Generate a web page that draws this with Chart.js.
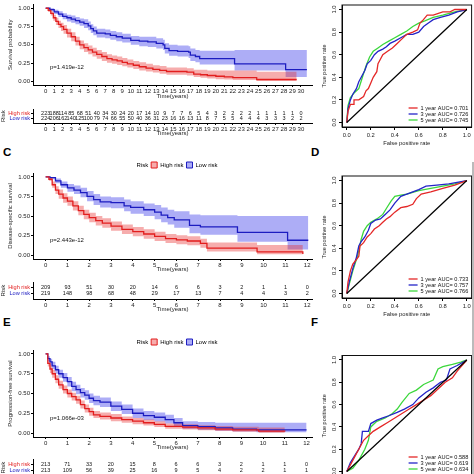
<!DOCTYPE html>
<html>
<head>
<meta charset="utf-8">
<title>Survival and ROC</title>
<script src="https://cdn.jsdelivr.net/npm/chart.js@4.4.1/dist/chart.umd.min.js"></script>
<style>
  body { margin:0; width:474px; height:474px; overflow:hidden; position:relative; background:#fff;
         font-family:"Liberation Sans", Arial, sans-serif; }
  canvas { position:absolute; }
  .tag { position:absolute; font-weight:bold; font-size:11.5px; line-height:1; color:#000; }
  .pval { position:absolute; font-size:6px; line-height:1; color:#111; }
  .edge { position:absolute; left:472px; top:162px; width:2px; height:312px; background:#bbb; }
</style>
</head>
<body>
<canvas id="kmA" width="320" height="100" style="left:0;top:0"></canvas>
<canvas id="riskA" width="320" height="32" style="left:0;top:105px"></canvas>
<canvas id="rocB" width="154" height="147" style="left:320px;top:0"></canvas>

<canvas id="kmC" width="320" height="114" style="left:0;top:159px"></canvas>
<canvas id="riskC" width="320" height="35" style="left:0;top:278px"></canvas>
<canvas id="rocD" width="154" height="158" style="left:320px;top:160px"></canvas>

<canvas id="kmE" width="320" height="115" style="left:0;top:336px"></canvas>
<canvas id="riskE" width="320" height="35" style="left:0;top:455px"></canvas>
<canvas id="rocF" width="154" height="156" style="left:320px;top:340px"></canvas>

<div class="edge"></div>
<div class="pval" style="left:50px;top:64px">p=1.419e-12</div>
<div class="pval" style="left:50px;top:237px">p=2.443e-12</div>
<div class="pval" style="left:50px;top:415px">p=1.066e-03</div>
<div class="tag" style="left:3px;top:147px">C</div>
<div class="tag" style="left:311px;top:147px">D</div>
<div class="tag" style="left:3px;top:317px">E</div>
<div class="tag" style="left:311px;top:317px">F</div>

<script>
// ---- overall survival (A) ----
var osYears = [0,1,2,3,4,5,6,7,8,9,10,11,12,13,14,15,16,17,18,19,20,21,22,23,24,25,26,27,28,29,30];
var osHighT  = [0,0.3,0.6,0.9,1.2,1.5,1.8,2.1,2.5,3.0,3.5,4.0,4.5,5.0,5.5,6.0,6.6,7.2,7.8,8.4,9.0,9.6,10.3,11.0,11.8,12.6,13.4,14.2,16.6,17.4,18.2,19.0,20.0,21.0,22.0,24.8,29.5];
var osHighS  = [1.0,0.97,0.93,0.87,0.82,0.78,0.75,0.71,0.66,0.61,0.55,0.50,0.46,0.43,0.40,0.37,0.34,0.31,0.295,0.28,0.26,0.24,0.22,0.20,0.18,0.165,0.15,0.135,0.125,0.10,0.09,0.08,0.07,0.06,0.05,0.025,0.025];
var osHighLo = [1.0,0.95,0.90,0.83,0.77,0.73,0.69,0.65,0.60,0.55,0.49,0.44,0.40,0.37,0.34,0.31,0.28,0.255,0.24,0.225,0.205,0.19,0.17,0.15,0.135,0.12,0.105,0.09,0.08,0.06,0.05,0.04,0.03,0.025,0.02,0.005,0.005];
var osHighUp = [1.0,0.99,0.96,0.91,0.87,0.83,0.80,0.77,0.72,0.67,0.61,0.56,0.52,0.49,0.46,0.43,0.40,0.37,0.355,0.34,0.32,0.30,0.28,0.26,0.24,0.22,0.21,0.19,0.18,0.16,0.16,0.15,0.15,0.15,0.15,0.13,0.13];
var osLowT  = [0,0.5,1.0,1.5,2.0,2.5,3.0,3.5,4.0,4.5,5.0,5.3,5.6,6.0,7.0,7.6,8.3,9.0,10.0,11.0,12.0,13.0,13.8,14.0,14.5,15.5,16.8,17.0,17.6,18.1,22.2,28.2,30.7];
var osLowS  = [1.0,0.98,0.95,0.92,0.89,0.87,0.85,0.83,0.81,0.79,0.76,0.72,0.69,0.66,0.65,0.63,0.61,0.59,0.56,0.55,0.54,0.52,0.50,0.45,0.42,0.41,0.40,0.36,0.34,0.31,0.24,0.16,0.16];
var osLowLo = [1.0,0.96,0.92,0.88,0.85,0.82,0.80,0.78,0.76,0.73,0.70,0.66,0.63,0.60,0.59,0.57,0.55,0.53,0.50,0.48,0.47,0.45,0.43,0.38,0.35,0.34,0.32,0.28,0.26,0.23,0.15,0.06,0.06];
var osLowUp = [1.0,1.0,0.98,0.96,0.93,0.91,0.90,0.88,0.86,0.85,0.82,0.78,0.75,0.72,0.71,0.69,0.67,0.65,0.62,0.61,0.61,0.59,0.57,0.52,0.50,0.49,0.48,0.45,0.43,0.42,0.43,0.43,0.43];
var osHighN = [223,188,114,85,68,51,40,34,30,24,20,17,14,10,9,7,7,6,5,4,3,2,2,2,2,1,1,1,1,1,0];
var osLowN  = [224,206,162,140,125,100,79,74,66,55,50,40,36,31,23,16,16,13,11,8,7,5,5,4,4,4,3,3,3,2,2];

// ---- disease-specific survival (C) ----
var dssYears = [0,1,2,3,4,5,6,7,8,9,10,11,12];
var dssHighT  = [0,0.15,0.3,0.45,0.6,0.8,1.0,1.25,1.5,1.75,2.0,2.3,2.6,3.0,3.5,4.0,4.5,5.0,5.5,6.0,6.5,7.1,7.4,9.7,11.8];
var dssHighS  = [1.0,0.97,0.90,0.83,0.78,0.73,0.69,0.63,0.57,0.52,0.48,0.44,0.41,0.37,0.33,0.30,0.27,0.24,0.21,0.195,0.18,0.15,0.09,0.04,0.015];
var dssHighLo = [1.0,0.95,0.86,0.78,0.72,0.67,0.63,0.57,0.51,0.46,0.42,0.38,0.35,0.31,0.27,0.24,0.21,0.18,0.155,0.14,0.125,0.095,0.045,0.01,0.0];
var dssHighUp = [1.0,0.99,0.94,0.88,0.84,0.79,0.75,0.69,0.63,0.58,0.54,0.50,0.47,0.43,0.39,0.36,0.33,0.30,0.27,0.255,0.24,0.21,0.16,0.13,0.12];
var dssLowT  = [0,0.2,0.45,0.7,1.0,1.3,1.6,1.9,2.2,2.5,3.0,3.6,3.9,4.5,5.0,5.3,5.6,5.9,6.6,7.1,8.8,11.1,12.05];
var dssLowS  = [1.0,0.99,0.95,0.90,0.86,0.83,0.80,0.75,0.71,0.68,0.67,0.63,0.61,0.58,0.55,0.51,0.48,0.45,0.38,0.36,0.29,0.19,0.19];
var dssLowLo = [1.0,0.97,0.92,0.86,0.81,0.78,0.74,0.69,0.64,0.61,0.60,0.56,0.53,0.50,0.46,0.42,0.39,0.35,0.28,0.26,0.17,0.07,0.07];
var dssLowUp = [1.0,1.0,0.98,0.94,0.91,0.89,0.86,0.82,0.78,0.75,0.74,0.71,0.69,0.66,0.64,0.61,0.58,0.56,0.52,0.51,0.50,0.50,0.50];
var dssHighN = [209,93,51,30,20,14,6,6,3,2,1,1,0];
var dssLowN  = [219,148,98,68,48,29,17,13,7,4,4,3,2];

// ---- progression-free survival (E) ----
var pfsYears = [0,1,2,3,4,5,6,7,8,9,10,11,12];
var pfsHighT  = [0,0.1,0.2,0.3,0.45,0.6,0.8,1.0,1.2,1.4,1.6,1.8,2.0,2.2,2.5,3.0,3.5,4.0,4.5,5.0,5.5,6.3,7.0,7.8,8.6,9.8,11.0];
var pfsHighS  = [1.0,0.88,0.81,0.75,0.68,0.61,0.55,0.50,0.46,0.42,0.36,0.31,0.27,0.23,0.21,0.19,0.17,0.15,0.13,0.11,0.085,0.075,0.065,0.05,0.04,0.025,0.02];
var pfsHighLo = [1.0,0.84,0.76,0.70,0.63,0.56,0.50,0.45,0.41,0.37,0.31,0.26,0.22,0.19,0.17,0.15,0.13,0.11,0.095,0.075,0.055,0.045,0.035,0.025,0.015,0.005,0.0];
var pfsHighUp = [1.0,0.92,0.86,0.80,0.73,0.66,0.60,0.55,0.51,0.47,0.41,0.36,0.32,0.28,0.26,0.24,0.21,0.19,0.17,0.15,0.12,0.11,0.10,0.09,0.08,0.07,0.07];
var pfsLowT  = [0,0.1,0.2,0.3,0.45,0.6,0.8,1.0,1.2,1.4,1.6,1.8,2.0,2.2,2.5,3.0,3.5,4.0,4.5,5.0,5.5,5.9,6.3,7.0,7.8,8.6,9.7,12.0];
var pfsLowS  = [1.0,0.94,0.90,0.85,0.80,0.75,0.70,0.65,0.59,0.55,0.51,0.48,0.44,0.41,0.39,0.34,0.30,0.25,0.22,0.20,0.17,0.13,0.095,0.08,0.065,0.05,0.04,0.04];
var pfsLowLo = [1.0,0.91,0.86,0.81,0.75,0.70,0.65,0.59,0.53,0.49,0.45,0.42,0.38,0.35,0.33,0.28,0.24,0.19,0.165,0.145,0.12,0.085,0.055,0.04,0.03,0.02,0.01,0.005];
var pfsLowUp = [1.0,0.97,0.94,0.90,0.85,0.80,0.76,0.71,0.65,0.61,0.57,0.54,0.50,0.47,0.45,0.40,0.36,0.31,0.28,0.26,0.23,0.19,0.15,0.14,0.13,0.13,0.13,0.13];
var pfsHighN = [213,71,33,20,15,8,6,6,3,2,1,1,0];
var pfsLowN  = [213,109,56,39,25,16,9,5,4,2,2,1,1];

var survTicks = [0,0.25,0.5,0.75,1];
var rocTicks  = [0,0.2,0.4,0.6,0.8,1];
var diagX = [0,1];
var diagY = [0,1];

// ---- ROC curves ----
var rocB1F = [0,0.01,0.03,0.06,0.06,0.10,0.14,0.16,0.18,0.20,0.22,0.25,0.26,0.28,0.30,0.34,0.38,0.42,0.46,0.50,0.55,0.59,0.61,0.63,0.67,0.72,0.80,0.86,0.90,1.0];
var rocB1T = [0,0.10,0.16,0.16,0.20,0.20,0.23,0.28,0.30,0.35,0.40,0.45,0.52,0.56,0.60,0.63,0.66,0.70,0.74,0.78,0.80,0.82,0.88,0.90,0.95,0.95,0.98,0.98,1.0,1.0];
var rocB3F = [0,0.01,0.03,0.05,0.08,0.10,0.12,0.15,0.17,0.20,0.23,0.26,0.30,0.33,0.36,0.40,0.45,0.50,0.55,0.60,0.64,0.68,0.72,0.78,0.85,0.92,1.0];
var rocB3T = [0,0.12,0.20,0.25,0.30,0.36,0.40,0.46,0.52,0.55,0.60,0.63,0.65,0.67,0.70,0.72,0.75,0.78,0.78,0.80,0.85,0.88,0.91,0.93,0.95,0.98,1.0];
var rocB5F = [0,0.01,0.03,0.06,0.10,0.13,0.16,0.19,0.22,0.26,0.30,0.35,0.40,0.45,0.50,0.55,0.60,0.65,0.72,0.80,0.90,1.0];
var rocB5T = [0,0.15,0.22,0.26,0.30,0.40,0.50,0.58,0.63,0.66,0.69,0.72,0.75,0.78,0.81,0.85,0.88,0.90,0.93,0.95,0.98,1.0];
var rocBLabels = ['1 year AUC= 0.701','3 year AUC= 0.726','5 year AUC= 0.745'];

var rocD1F = [0,0.01,0.03,0.05,0.08,0.10,0.11,0.14,0.17,0.20,0.23,0.27,0.30,0.33,0.36,0.40,0.45,0.50,0.55,0.58,0.62,0.70,0.80,0.90,1.0];
var rocD1T = [0,0.10,0.20,0.26,0.30,0.33,0.42,0.45,0.50,0.53,0.57,0.60,0.63,0.66,0.68,0.72,0.76,0.77,0.79,0.84,0.88,0.90,0.93,0.96,1.0];
var rocD3F = [0,0.02,0.05,0.08,0.10,0.12,0.15,0.18,0.20,0.24,0.28,0.32,0.36,0.40,0.45,0.50,0.55,0.60,0.66,0.75,0.85,1.0];
var rocD3T = [0,0.10,0.22,0.32,0.42,0.46,0.50,0.56,0.62,0.65,0.66,0.70,0.74,0.80,0.86,0.88,0.90,0.92,0.95,0.96,0.97,1.0];
var rocD5F = [0,0.02,0.05,0.08,0.10,0.12,0.14,0.17,0.20,0.25,0.30,0.34,0.37,0.40,0.45,0.50,0.60,0.70,0.80,0.90,1.0];
var rocD5T = [0,0.08,0.20,0.30,0.38,0.48,0.55,0.60,0.63,0.66,0.70,0.77,0.82,0.86,0.87,0.88,0.91,0.93,0.95,0.97,1.0];
var rocDLabels = ['1 year AUC= 0.733','3 year AUC= 0.757','5 year AUC= 0.766'];

var rocF1F = [0,0.03,0.07,0.10,0.14,0.18,0.22,0.28,0.34,0.40,0.46,0.52,0.58,0.64,0.70,0.76,0.82,0.88,0.92,0.96,1.0];
var rocF1T = [0,0.06,0.14,0.20,0.28,0.32,0.36,0.40,0.44,0.48,0.52,0.56,0.60,0.64,0.68,0.74,0.80,0.84,0.90,0.95,1.0];
var rocF3F = [0,0.03,0.07,0.10,0.12,0.13,0.18,0.20,0.25,0.30,0.35,0.42,0.48,0.55,0.60,0.66,0.72,0.78,0.83,0.86,0.88,0.92,1.0];
var rocF3T = [0,0.08,0.15,0.20,0.25,0.36,0.36,0.43,0.46,0.48,0.50,0.53,0.56,0.60,0.66,0.71,0.75,0.80,0.82,0.92,0.93,0.95,1.0];
var rocF5F = [0,0.05,0.10,0.15,0.18,0.20,0.25,0.32,0.38,0.42,0.46,0.52,0.58,0.64,0.68,0.72,0.76,0.80,0.88,0.95,1.0];
var rocF5T = [0,0.03,0.10,0.20,0.28,0.40,0.45,0.48,0.52,0.56,0.62,0.70,0.73,0.78,0.80,0.82,0.92,0.94,0.96,0.98,1.0];
var rocFLabels = ['1 year AUC= 0.588','3 year AUC= 0.619','5 year AUC= 0.634'];

var RED = 'rgb(226,30,30)', BLUE = 'rgb(28,28,192)';
var RED_BAND = 'rgba(232,40,40,0.38)', BLUE_BAND = 'rgba(40,40,232,0.38)';
var ROC_COLORS = ['rgb(228,40,40)', 'rgb(36,36,200)', 'rgb(60,215,60)'];
var NONE = 'rgba(0,0,0,0)';

Chart.defaults.font.family = '"Liberation Sans", Arial, sans-serif';
Chart.defaults.font.size = 6;
Chart.defaults.color = '#222';
Chart.defaults.animation = false;
Chart.defaults.plugins.legend.display = false;
Chart.defaults.plugins.tooltip.enabled = false;

function pts(xs, ys) {
  return xs.map(function(x, i) { return {x: x, y: ys[i]}; });
}
function asTicks(arr) {
  return arr.map(function(v) { return {value: v}; });
}

// numbers at risk, written at each point of the risk table
var countLabels = {
  id: 'countLabels',
  afterDatasetsDraw: function(chart) {
    var ctx = chart.ctx;
    ctx.save();
    ctx.font = '5.5px "Liberation Sans", Arial';
    ctx.fillStyle = '#111';
    ctx.textAlign = 'center';
    ctx.textBaseline = 'middle';
    chart.data.datasets.forEach(function(ds, i) {
      chart.getDatasetMeta(i).data.forEach(function(pt, j) {
        ctx.fillText(String(ds.data[j].n), pt.x, pt.y);
      });
    });
    ctx.restore();
  }
};

// box around the ROC plots
var plotBox = {
  id: 'plotBox',
  afterDraw: function(chart) {
    var a = chart.chartArea, ctx = chart.ctx;
    ctx.save();
    ctx.strokeStyle = '#111';
    ctx.lineWidth = 1;
    ctx.strokeRect(a.left, a.top, a.right - a.left, a.bottom - a.top);
    ctx.restore();
  }
};

// reference line y = x, placed through the chart's own scales
var abline = {
  id: 'abline',
  afterDatasetsDraw: function(chart) {
    var sx = chart.scales.x, sy = chart.scales.y, ctx = chart.ctx;
    ctx.save();
    ctx.strokeStyle = '#000';
    ctx.lineWidth = 1.2;
    ctx.beginPath();
    diagX.forEach(function(v, i) {
      var px = sx.getPixelForValue(v), py = sy.getPixelForValue(diagY[i]);
      if (i === 0) ctx.moveTo(px, py); else ctx.lineTo(px, py);
    });
    ctx.stroke();
    ctx.restore();
  }
};

// R style legend at the bottom right of ROC plots
var aucLegend = {
  id: 'aucLegend',
  afterDatasetsDraw: function(chart) {
    var a = chart.chartArea, ctx = chart.ctx;
    ctx.save();
    ctx.font = '5.6px "Liberation Sans", Arial';
    ctx.textBaseline = 'middle';
    ctx.fillStyle = '#111';
    chart.data.datasets.forEach(function(d) {
      if (d.auc === undefined) return;
      var y = a.bottom - 19 + d.auc * 6;
      ctx.strokeStyle = d.borderColor;
      ctx.lineWidth = 1.3;
      ctx.beginPath();
      ctx.moveTo(a.right - 63, y);
      ctx.lineTo(a.right - 54, y);
      ctx.stroke();
      ctx.fillText(d.label, a.right - 51, y);
    });
    ctx.restore();
  }
};

function xAxis(min, max, years, height, title) {
  return {
    type: 'linear', min: min, max: max,
    afterBuildTicks: function(s) { s.ticks = asTicks(years); },
    ticks: {autoSkip: false, maxRotation: 0, padding: 1, color: '#222', font: {size: 6}},
    grid: {drawOnChartArea: false, drawTicks: true, tickLength: 2, color: '#000'},
    border: {display: true, color: '#000', width: 1},
    title: {display: !!title, text: title, color: '#222', font: {size: 6}, padding: {top: 0.4, bottom: 0}},
    afterFit: function(s) { s.height = height; }
  };
}

function kmChart(id, years, xmin, xmax, g, yTitle, withLegend) {
  var datasets = [
    {label: 'High risk', data: pts(g.hiT, g.hiS), borderColor: RED, borderWidth: 1.3, stepped: true, pointRadius: 0, fill: false, order: 0},
    {label: 'Low risk', data: pts(g.loT, g.loS), borderColor: BLUE, borderWidth: 1.3, stepped: true, pointRadius: 0, fill: false, order: 0},
    {data: pts(g.hiT, g.hiUp), borderColor: NONE, borderWidth: 0, stepped: true, pointRadius: 0, fill: '+1', backgroundColor: RED_BAND, order: 1},
    {data: pts(g.hiT, g.hiLo), borderColor: NONE, borderWidth: 0, stepped: true, pointRadius: 0, fill: false, order: 1},
    {data: pts(g.loT, g.loUp), borderColor: NONE, borderWidth: 0, stepped: true, pointRadius: 0, fill: '+1', backgroundColor: BLUE_BAND, order: 1},
    {data: pts(g.loT, g.loLo), borderColor: NONE, borderWidth: 0, stepped: true, pointRadius: 0, fill: false, order: 1}
  ];
  var legend = {display: false};
  if (withLegend) {
    legend = {
      display: true, position: 'top', fullSize: false, maxHeight: 14,
      labels: {
        font: {size: 6}, color: '#111', boxWidth: 6, boxHeight: 6, padding: 3,
        generateLabels: function() {
          return [
            {text: 'Risk', fillStyle: NONE, strokeStyle: NONE, lineWidth: 0, hidden: false},
            {text: 'High risk', fillStyle: RED_BAND, strokeStyle: RED, lineWidth: 1, hidden: false},
            {text: 'Low risk', fillStyle: BLUE_BAND, strokeStyle: BLUE, lineWidth: 1, hidden: false}
          ];
        }
      }
    };
  }
  return new Chart(document.getElementById(id), {
    type: 'line',
    data: {datasets: datasets},
    options: {
      responsive: false, devicePixelRatio: 1,
      layout: {padding: {left: 0, top: withLegend ? 0 : 1, right: 8, bottom: 0}},
      plugins: {legend: legend},
      scales: {
        x: xAxis(xmin, xmax, years, withLegend ? 14 : 15, 'Time(years)'),
        y: {
          type: 'linear', min: -0.05, max: 1.05,
          afterBuildTicks: function(s) { s.ticks = asTicks(survTicks); },
          ticks: {padding: 1, color: '#222', font: {size: 6}, callback: function(v) { return v.toFixed(2); }},
          grid: {drawOnChartArea: false, drawTicks: true, tickLength: 2, color: '#000'},
          border: {display: true, color: '#000', width: 1},
          title: {display: true, text: yTitle, color: '#222', font: {size: 6}, padding: {top: 6.4, bottom: 0}},
          afterFit: function(s) { s.width = 33; }
        }
      }
    }
  });
}

function riskChart(id, years, xmin, xmax, hi, lo) {
  return new Chart(document.getElementById(id), {
    type: 'scatter',
    data: {datasets: [
      {data: years.map(function(t, i) { return {x: t, y: 2, n: hi[i]}; }), pointRadius: 0},
      {data: years.map(function(t, i) { return {x: t, y: 1, n: lo[i]}; }), pointRadius: 0}
    ]},
    options: {
      responsive: false, devicePixelRatio: 1,
      layout: {padding: {left: 0, top: 3, right: 8, bottom: 0}},
      scales: {
        x: xAxis(xmin, xmax, years, 14, 'Time(years)'),
        y: {
          type: 'linear', min: 0, max: 3,
          afterBuildTicks: function(s) { s.ticks = asTicks([2, 1]); },
          ticks: {padding: 1, font: {size: 5.6},
            color: function(c) { return c.tick && c.tick.value === 2 ? RED : BLUE; },
            callback: function(v) { return v === 2 ? 'High risk' : 'Low risk'; }},
          grid: {drawOnChartArea: false, drawTicks: true, tickLength: 2, color: '#000'},
          border: {display: true, color: '#000', width: 1},
          title: {display: true, text: 'Risk', color: '#222', font: {size: 6}, padding: {top: 0, bottom: 0}},
          afterFit: function(s) { s.width = 33; }
        }
      }
    },
    plugins: [countLabels]
  });
}

function rocChart(id, curves, labels, padTop) {
  var datasets = [];
  curves.forEach(function(c, k) {
    datasets.push({type: 'line', label: labels[k], auc: k, data: pts(c[0], c[1]), borderColor: ROC_COLORS[k],
      borderWidth: 1.3, pointRadius: 0, fill: false});
  });
  return new Chart(document.getElementById(id), {
    type: 'line',
    data: {datasets: datasets},
    options: {
      responsive: false, devicePixelRatio: 1,
      layout: {padding: {left: 0, top: padTop, right: 2.4, bottom: 0}},
      scales: {
        x: {
          type: 'linear', min: -0.04, max: 1.04,
          afterBuildTicks: function(s) { s.ticks = asTicks(rocTicks); },
          ticks: {autoSkip: false, maxRotation: 0, padding: 2, color: '#222', font: {size: 5.8},
            callback: function(v) { return v.toFixed(1); }},
          grid: {drawOnChartArea: false, drawTicks: true, tickLength: 3, color: '#000'},
          border: {display: true, color: '#000', width: 1},
          title: {display: true, text: 'False positive rate', color: '#222', font: {size: 5.8}, padding: {top: 0, bottom: 0}},
          afterFit: function(s) { s.height = 20; }
        },
        y: {
          type: 'linear', min: -0.04, max: 1.04,
          afterBuildTicks: function(s) { s.ticks = asTicks(rocTicks); },
          ticks: {autoSkip: false, minRotation: 90, maxRotation: 90, crossAlign: 'center', padding: 1,
            color: '#222', font: {size: 5.8}, callback: function(v) { return v.toFixed(1); }},
          grid: {drawOnChartArea: false, drawTicks: true, tickLength: 3, color: '#000'},
          border: {display: true, color: '#000', width: 1},
          title: {display: true, text: 'True positive rate', color: '#222', font: {size: 5.6}, padding: {top: 1.5, bottom: 0}},
          afterFit: function(s) { s.width = 22; }
        }
      }
    },
    plugins: [abline, plotBox, aucLegend]
  });
}

kmChart('kmA', osYears, -1.49, 31.3, {hiT: osHighT, hiS: osHighS, hiLo: osHighLo, hiUp: osHighUp,
  loT: osLowT, loS: osLowS, loLo: osLowLo, loUp: osLowUp}, 'Survival probability', false);
riskChart('riskA', osYears, -1.49, 31.3, osHighN, osLowN);
rocChart('rocB', [[rocB1F, rocB1T], [rocB3F, rocB3T], [rocB5F, rocB5T]], rocBLabels, 5);

kmChart('kmC', dssYears, -0.58, 12.22, {hiT: dssHighT, hiS: dssHighS, hiLo: dssHighLo, hiUp: dssHighUp,
  loT: dssLowT, loS: dssLowS, loLo: dssLowLo, loUp: dssLowUp}, 'Disease-specific survival', true);
riskChart('riskC', dssYears, -0.58, 12.22, dssHighN, dssLowN);
rocChart('rocD', [[rocD1F, rocD1T], [rocD3F, rocD3T], [rocD5F, rocD5T]], rocDLabels, 16);

kmChart('kmE', pfsYears, -0.58, 12.25, {hiT: pfsHighT, hiS: pfsHighS, hiLo: pfsHighLo, hiUp: pfsHighUp,
  loT: pfsLowT, loS: pfsLowS, loLo: pfsLowLo, loUp: pfsLowUp}, 'Progression-free survival', true);
riskChart('riskE', pfsYears, -0.58, 12.25, pfsHighN, pfsLowN);
rocChart('rocF', [[rocF1F, rocF1T], [rocF3F, rocF3T], [rocF5F, rocF5T]], rocFLabels, 15.5);
</script>
</body>
</html>
